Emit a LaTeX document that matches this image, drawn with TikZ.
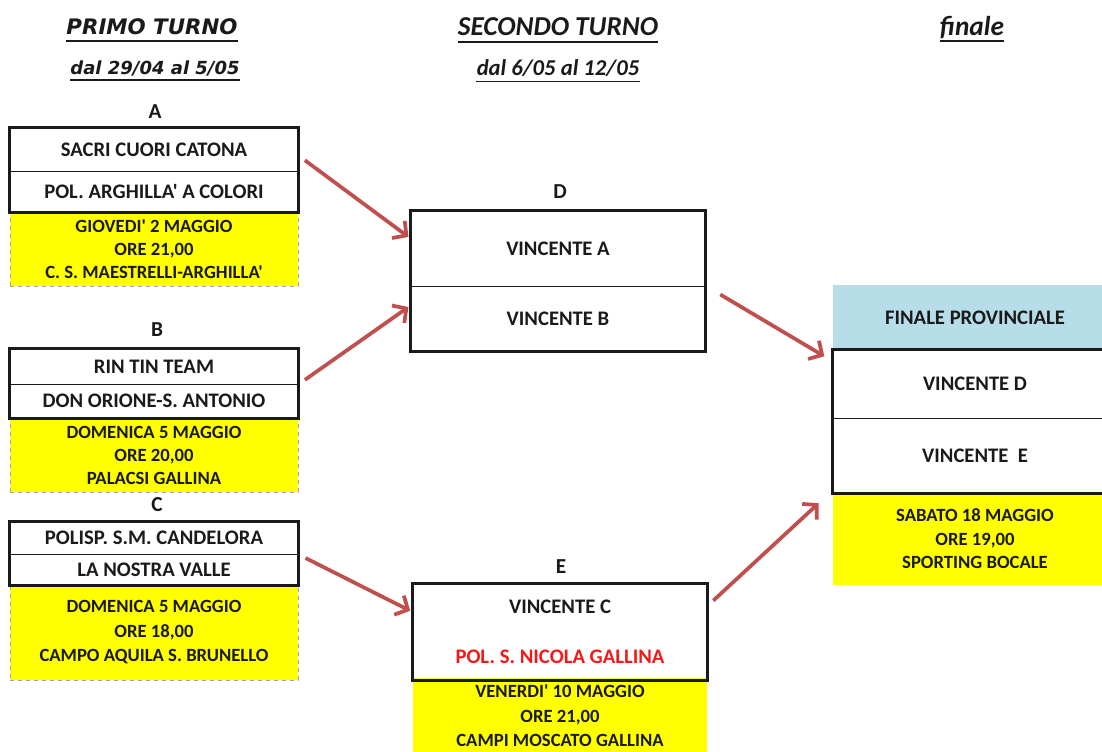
\documentclass[tikz,border=0pt]{standalone}
\usepackage{fontspec}
\setmainfont{Carlito}[Ligatures=TeXOff]
\newfontfamily\verdfont{DejaVu Sans}
\usetikzlibrary{arrows.meta,calc}
\definecolor{ink}{HTML}{1A1A1A}
\definecolor{hilite}{HTML}{FFFF00}
\definecolor{sky}{HTML}{B7DDE8}
\definecolor{arrred}{HTML}{C0504D}
\definecolor{dashgray}{HTML}{A6A6A6}
\definecolor{teamred}{HTML}{F41818}
\tikzset{
  cell/.style={draw=ink, line width=0.6pt, inner sep=0pt, text=ink, font=\bfseries\fontsize{15.5}{18}\selectfont},
  boxFrame/.style={draw=ink, line width=1.9pt},
  info/.style={fill=hilite, draw=dashgray, dashed, line width=0.5pt, inner sep=0pt, align=center, text=ink},
  groupLbl/.style={text=ink, inner sep=0pt, font=\bfseries\fontsize{16}{18}\selectfont},
  roundTtl/.style={text=ink, inner sep=0pt, font=\bfseries\itshape\fontsize{20.5}{24}\selectfont},
  ulLine/.style={draw=ink, line width=1.2pt},
  arr/.style={draw=arrred, line width=2.8pt, -{Straight Barb[length=7.5pt,width=16pt]}, shorten <=6pt, shorten >=2pt},
}

\begin{document}
\begin{tikzpicture}[x=0.75pt, y=-0.75pt]
  \useasboundingbox (0,0) rectangle (1102,751);
  \clip (0,0) rectangle (1102,751);

  % round titles
  \node[roundTtl, font=\verdfont\bfseries\itshape\fontsize{16}{18}\selectfont] (t1) at (152,27) {PRIMO TURNO};
  \node[roundTtl, font=\verdfont\bfseries\itshape\fontsize{13.5}{16}\selectfont] (d1) at (155,68) {dal 29/04 al 5/05};
  \node[roundTtl] (t2) at (558,27) {SECONDO TURNO};
  \node[roundTtl, font=\bfseries\itshape\fontsize{17}{20}\selectfont] (d2) at (558,68) {dal 6/05 al 12/05};
  \node[roundTtl] (t3) at (972,27) {finale};
  \foreach \t in {t1,d1,t2,d2,t3}
    \draw[ulLine] ($(\t.base west)+(0,6)$) -- ($(\t.base east)+(0,6)$);

  % primo turno
  \node[groupLbl] (labA) at (155,112) {A};
  \node[info, minimum width=216pt, minimum height=55.5pt, font=\bfseries\fontsize{14}{17.25}\selectfont] (infoA) at (154,249)
    {GIOVEDI' 2 MAGGIO\\ORE 21,00\\C. S. MAESTRELLI-ARGHILLA'};
  \node[cell, minimum width=216pt, minimum height=32.25pt] (A1) at (154,149.5) {SACRI CUORI CATONA};
  \node[cell, minimum width=216pt, minimum height=30.75pt] (A2) at (154,191.5) {POL. ARGHILLA' A COLORI};
  \draw[boxFrame] (A1.north west) rectangle (A2.south east);

  \node[groupLbl] (labB) at (157,330) {B};
  \node[info, minimum width=216pt, minimum height=55.5pt, font=\bfseries\fontsize{14}{17.25}\selectfont] (infoB) at (154,455)
    {DOMENICA 5 MAGGIO\\ORE 20,00\\PALACSI GALLINA};
  \node[cell, minimum width=216pt, minimum height=26.25pt] (B1) at (154,366.5) {RIN TIN TEAM};
  \node[cell, minimum width=216pt, minimum height=25.5pt] (B2) at (154,401) {DON ORIONE-S. ANTONIO};
  \draw[boxFrame] (B1.north west) rectangle (B2.south east);

  \node[groupLbl] (labC) at (157,505) {C};
  \node[info, minimum width=216pt, minimum height=71.25pt, font=\bfseries\fontsize{14}{18.4}\selectfont] (infoC) at (154,632.5)
    {DOMENICA 5 MAGGIO\\ORE 18,00\\CAMPO AQUILA S. BRUNELLO};
  \node[cell, minimum width=216pt, minimum height=24pt] (C1) at (154,538) {POLISP. S.M. CANDELORA};
  \node[cell, minimum width=216pt, minimum height=23.25pt] (C2) at (154,569.5) {LA NOSTRA VALLE};
  \draw[boxFrame] (C1.north west) rectangle (C2.south east);

  % secondo turno
  \node[groupLbl] (labD) at (560,192) {D};
  \node[cell, minimum width=220.5pt, minimum height=56.25pt] (D1) at (558,248.5) {VINCENTE A};
  \node[cell, minimum width=220.5pt, minimum height=48.75pt] (D2) at (558,318.5) {VINCENTE B};
  \draw[boxFrame] (D1.north west) rectangle (D2.south east);

  \node[groupLbl] (labE) at (561,567) {E};
  \node[info, draw=none, minimum width=220.5pt, minimum height=57pt, font=\bfseries\fontsize{14}{18.3}\selectfont] (infoE) at (560,716)
    {VENERDI' 10 MAGGIO\\ORE 21,00\\CAMPI MOSCATO GALLINA};
  \node[cell, align=center, minimum width=220.5pt, minimum height=72pt, font=\bfseries\fontsize{15.5}{37.5}\selectfont] (E) at (560,632)
    {VINCENTE C\\\textcolor{teamred}{POL. S. NICOLA GALLINA}};
  \draw[boxFrame] (E.north west) rectangle (E.south east);

  % finale
  \node[cell, draw=none, fill=sky, minimum width=213pt, minimum height=48.75pt] (FH) at (975,317.5) {FINALE PROVINCIALE};
  \node[info, draw=none, minimum width=213pt, minimum height=69pt, font=\bfseries\fontsize{14}{17.6}\selectfont] (infoF) at (975,539)
    {SABATO 18 MAGGIO\\ORE 19,00\\SPORTING BOCALE};
  \node[cell, minimum width=213pt, minimum height=51pt] (F1) at (975,384) {VINCENTE D};
  \node[cell, minimum width=213pt, minimum height=56.25pt] (F2) at (975,455.5) {VINCENTE~~E};
  \draw[boxFrame] (F1.north west) rectangle (F2.south east);

  % arrows
  \draw[arr] ($(A1.east)+(0,6)$) -- ($(D1.west)+(0,-10)$);
  \draw[arr] (B1.south east) -- ($(D2.west)+(0,-13)$);
  \draw[arr] (C1.south east) -- ($(E.west)+(0,-20)$);
  \draw[arr] ($(D1.south east)+(8,4)$) -- ($(F1.north west)+(-6,8)$);
  \draw[arr] ($(E.east)+(0,-26)$) -- ($(F2.south west)+(-12,8)$);
\end{tikzpicture}
\end{document}
